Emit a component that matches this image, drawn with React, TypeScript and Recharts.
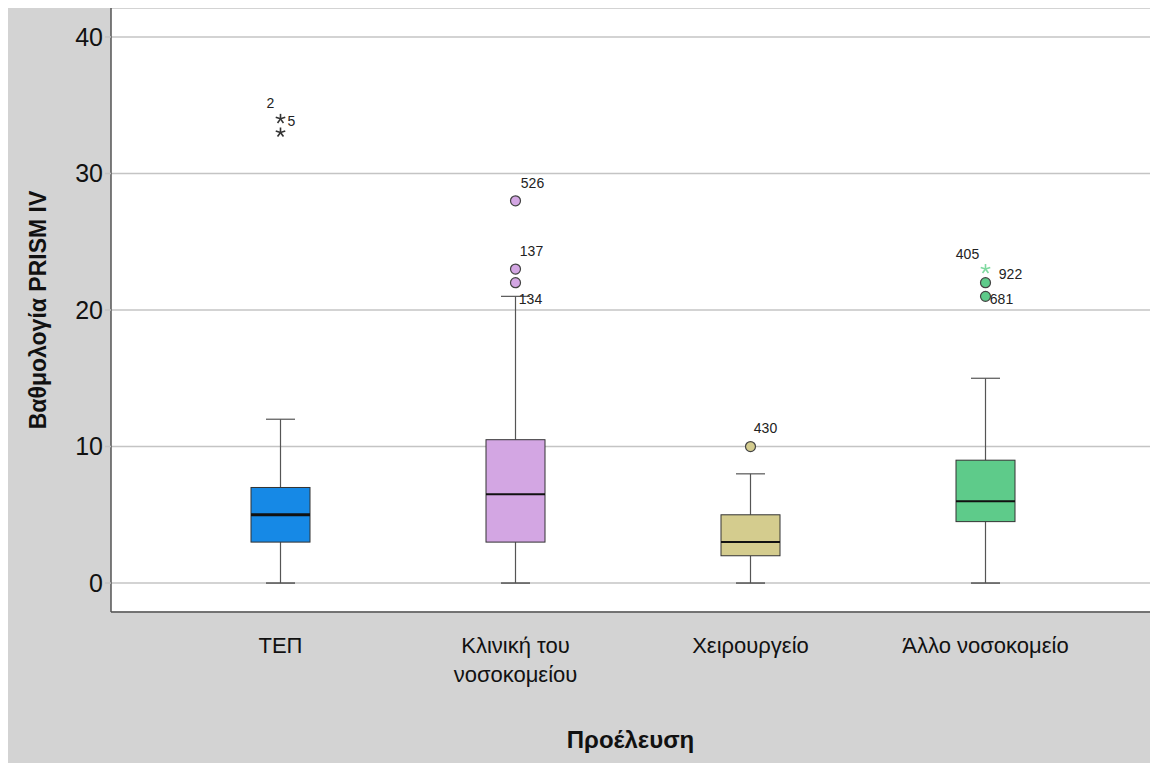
import React from 'react';
import {
  ComposedChart,
  Bar,
  Scatter,
  XAxis,
  YAxis,
  CartesianGrid,
} from 'recharts';

const categories = ['ΤΕΠ', 'Κλινική του νοσοκομείου', 'Χειρουργείο', 'Άλλο νοσοκομείο'];
const tickLabels = [['ΤΕΠ'], ['Κλινική του', 'νοσοκομείου'], ['Χειρουργείο'], ['Άλλο νοσοκομείο']];

const whiskerLow = [0, 0, 0, 0];
const q1 = [3, 3, 2, 4.5];
const medians = [5, 6.5, 3, 6];
const q3 = [7, 10.5, 5, 9];
const whiskerHigh = [12, 21, 8, 15];

// outliers, up to three per group (null = none)
const outlier1 = [34, 28, 10, 23];
const outlier2 = [33, 23, null, 22];
const outlier3 = [null, 22, null, 21];
const extreme1 = [true, false, false, true];
const extreme2 = [true, false, false, false];
const extreme3 = [false, false, false, false];
const label1 = ['2', '526', '430', '405'];
const label2 = ['5', '137', '', '922'];
const label3 = ['', '134', '', '681'];

const yTicks = [0, 10, 20, 30, 40];

const boxColors = ['#1689E6', '#D3A6E3', '#D4CC8E', '#5ECB8A'];
const starColors = ['#333333', '#333333', '#333333', '#7FD9A0'];

// label offsets from the marker (px)
const labelOffsets: Record<string, [number, number]> = {
  '2': [-10, -16],
  '5': [11, -12],
  '526': [17, -18],
  '137': [16, -18],
  '134': [15, 16],
  '430': [15, -19],
  '405': [-18, -15],
  '922': [25, -9],
  '681': [16, 3],
};

const data = categories.map((name, i) => ({
  name,
  idx: i,
  range: [whiskerLow[i], whiskerHigh[i]],
  o1: outlier1[i],
  o2: outlier2[i],
  o3: outlier3[i],
}));

const slots = [
  { key: 'o1', extreme: extreme1, labels: label1 },
  { key: 'o2', extreme: extreme2, labels: label2 },
  { key: 'o3', extreme: extreme3, labels: label3 },
];

const BoxShape = (props: any) => {
  const { x, y, width, height, payload } = props;
  const i = payload.idx;
  const lo = whiskerLow[i];
  const hi = whiskerHigh[i];
  const toY = (v: number) => y + ((hi - v) / (hi - lo)) * height;
  const cx = x + width / 2;
  const capW = 29;
  const yq1 = toY(q1[i]);
  const yq3 = toY(q3[i]);
  const ymed = toY(medians[i]);
  return (
    <g>
      <line x1={cx} x2={cx} y1={toY(hi)} y2={yq3} stroke="#555" strokeWidth={1.2} />
      <line x1={cx} x2={cx} y1={yq1} y2={toY(lo)} stroke="#555" strokeWidth={1.2} />
      <line x1={cx - capW / 2} x2={cx + capW / 2} y1={toY(hi)} y2={toY(hi)} stroke="#555" strokeWidth={1.2} />
      <line x1={cx - capW / 2} x2={cx + capW / 2} y1={toY(lo)} y2={toY(lo)} stroke="#555" strokeWidth={1.5} />
      <rect x={x} y={yq3} width={width} height={yq1 - yq3} fill={boxColors[i]} stroke="#333" strokeWidth={1} />
      <line x1={x} x2={x + width} y1={ymed} y2={ymed} stroke="#111" strokeWidth={i === 0 ? 3 : 2} />
    </g>
  );
};

const makeOutlierShape = (slot: typeof slots[number]) => (props: any) => {
  const { cx, cy, payload } = props;
  const i = payload.idx;
  const v = payload[slot.key];
  if (v == null || cx == null || cy == null) return <g />;
  const text = slot.labels[i];
  const off = labelOffsets[text] || [0, 0];
  let marker;
  if (slot.extreme[i]) {
    const r = 5;
    const arms = [-90, -18, 54, 126, 198].map((a) => (a * Math.PI) / 180);
    marker = (
      <g stroke={starColors[i]} strokeWidth={1.6}>
        {arms.map((a, k) => (
          <line key={k} x1={cx} y1={cy} x2={cx + r * Math.cos(a)} y2={cy + r * Math.sin(a)} />
        ))}
      </g>
    );
  } else {
    marker = <circle cx={cx} cy={cy} r={5} fill={boxColors[i]} stroke="#444" strokeWidth={1.2} />;
  }
  return (
    <g>
      {marker}
      {text && (
        <text
          x={cx + off[0]}
          y={cy + off[1]}
          textAnchor="middle"
          dominantBaseline="central"
          fontSize={14}
          fontFamily="Liberation Sans, Arial, sans-serif"
          fill="#222"
        >
          {text}
        </text>
      )}
    </g>
  );
};

const XTick = (props: any) => {
  const { x, y, payload } = props;
  const lines = tickLabels[payload.index] || [payload.value];
  return (
    <text
      x={x}
      y={y + 33}
      textAnchor="middle"
      fontSize={22}
      fontFamily="Liberation Sans, Arial, sans-serif"
      fill="#111"
    >
      {lines.map((l: string, k: number) => (
        <tspan key={k} x={x} dy={k === 0 ? 0 : 29}>
          {l}
        </tspan>
      ))}
    </text>
  );
};

export default function App() {
  return (
    <div
      style={{
        position: 'fixed',
        left: 8,
        top: 8,
        width: 1142,
        height: 755,
        background: '#D3D3D3',
      }}
    >
      <ComposedChart
        width={1142}
        height={755}
        data={data}
        margin={{ top: 0, right: 0, left: 0, bottom: 0 }}
      >
        <CartesianGrid vertical={false} stroke="#C4C4C4" fill="#FFFFFF" strokeWidth={1.5} />
        <XAxis
          dataKey="name"
          type="category"
          height={151}
          padding={{ left: 52, right: 47 }}
          tick={<XTick />}
          tickLine={false}
          axisLine={{ stroke: '#555', strokeWidth: 1.5 }}
          interval={0}
          label={{
            value: 'Προέλευση',
            position: 'insideBottom',
            offset: 15,
            fontSize: 24,
            fontWeight: 'bold',
            fill: '#111',
            fontFamily: 'Liberation Sans, Arial, sans-serif',
          }}
        />
        <YAxis
          type="number"
          width={103}
          domain={[-2.12, 42.12]}
          ticks={yTicks}
          allowDataOverflow
          tickSize={6}
          tickLine={{ stroke: '#C4C4C4', strokeWidth: 1.5 }}
          axisLine={{ stroke: '#555', strokeWidth: 1.5 }}
          tick={{ fontSize: 25, fill: '#111', fontFamily: 'Liberation Sans, Arial, sans-serif' }}
          label={{
            value: 'Βαθμολογία PRISM IV',
            angle: -90,
            position: 'insideLeft',
            offset: 30,
            style: { textAnchor: 'middle' },
            fontSize: 23,
            fontWeight: 'bold',
            fill: '#111',
            fontFamily: 'Liberation Sans, Arial, sans-serif',
          }}
        />
        <Bar dataKey="range" barSize={59} shape={<BoxShape />} isAnimationActive={false} />
        {slots.map((slot) => (
          <Scatter
            key={slot.key}
            dataKey={slot.key}
            shape={makeOutlierShape(slot)}
            isAnimationActive={false}
          />
        ))}
      </ComposedChart>
    </div>
  );
}
